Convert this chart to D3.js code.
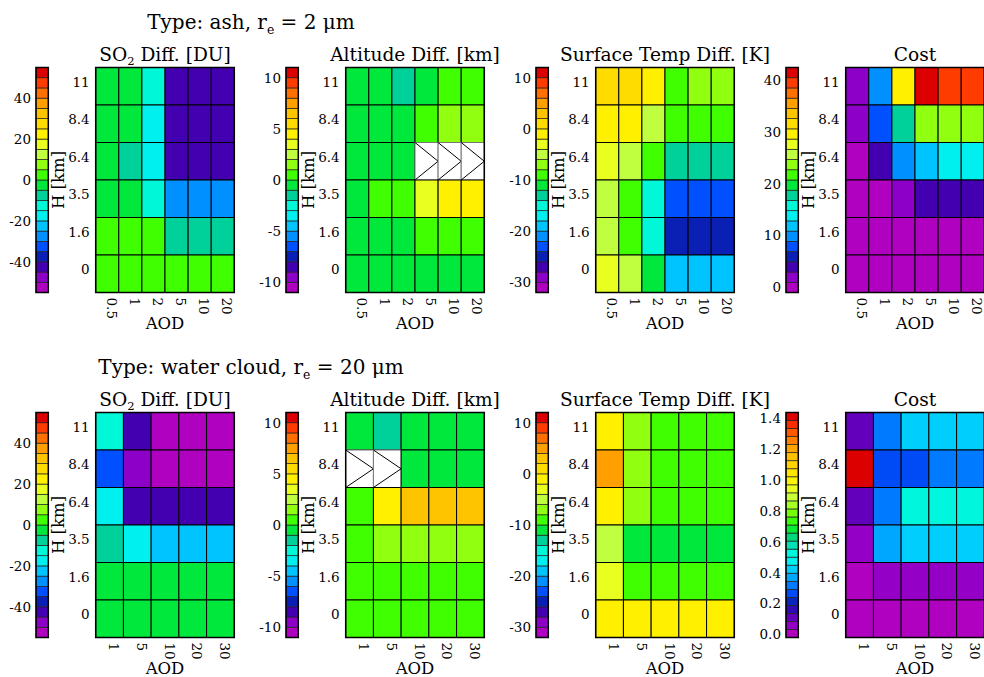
<!DOCTYPE html>
<html>
<head>
<meta charset="utf-8">
<script src="https://cdn.jsdelivr.net/npm/d3@7"></script>
<style>
body { margin: 0; background: #fff; }
svg text { font-family: "DejaVu Serif", serif; fill: #000; }
</style>
</head>
<body>
<div id="chart"></div>
<script>
const width = 984, height = 677;

// axes categories
const aodAsh = ["0.5", "1", "2", "5", "10", "20"];
const aodWater = ["1", "5", "10", "20", "30"];
const heights = ["11", "8.4", "6.4", "3.5", "1.6", "0"];   // top row first

// colour bars: [min, max, number of levels] and their tick labels
const so2Range = [-55, 55, 22];
const so2Ticks = [-40, -20, 0, 20, 40];
const altRange = [-11, 11, 22];
const altTicks = [-10, -5, 0, 5, 10];
const tempRange = [-32, 12, 22];
const tempTicks = [-30, -20, -10, 0, 10];
const costAshRange = [-1, 42.5, 22];
const costAshTicks = [0, 10, 20, 30, 40];
const costWaterRange = [-0.02, 1.44, 28];
const costWaterTicks = [0.0, 0.2, 0.4, 0.6, 0.8, 1.0, 1.2, 1.4];

// ash, r_e = 2 um  (rows = H from 11 down to 0, cols = AOD)
const ashSO2 = [
  [-2.1, -1.6, -13.4, -43.5, -42.8, -42.1],
  [-1.9, -1.4, -18.2, -43.9, -43.1, -42.4],
  [-2.4, -7.6, -17.8, -44.2, -43.6, -42.9],
  [-1.2, -0.9, -12.1, -28.3, -27.6, -27.1],
  [1.8, 2.1, 2.4, -7.2, -6.8, -6.5],
  [2.6, 2.9, 3.1, 3.3, 3.5, 3.6]
];
const ashAlt = [
  [-0.4, -0.6, -1.4, -0.3, 0.4, 0.6],
  [-0.5, -0.4, -0.3, 0.5, 1.4, 1.6],
  [-0.6, -0.5, -0.4, null, null, null],
  [-0.2, 0.6, 0.8, 3.4, 4.3, 4.6],
  [-0.3, -0.4, -0.2, 0.5, 0.6, 0.7],
  [-0.2, -0.3, -0.3, -0.4, -0.4, -0.5]
];
const ashTemp = [
  [0.8, 1.2, -1.1, -9.2, -7.1, -6.8],
  [-0.9, -1.2, -5.1, -8.8, -9.1, -9.0],
  [-3.2, -4.8, -9.3, -13.1, -12.8, -13.0],
  [-5.2, -9.1, -15.2, -23.1, -22.9, -23.2],
  [-4.9, -8.9, -14.8, -25.2, -24.8, -25.1],
  [-3.1, -5.3, -11.2, -19.1, -18.8, -19.0]
];
const ashCost = [
  [2.1, 9.9, 29.7, 41.6, 39.4, 39.6],
  [1.9, 7.8, 17.9, 23.5, 23.8, 23.6],
  [0.4, 3.9, 9.8, 11.9, 13.7, 13.9],
  [0.1, 0.3, 1.8, 4.1, 4.0, 3.8],
  [0.05, 0.08, 0.1, 0.12, 0.1, 0.09],
  [0.02, 0.03, 0.04, 0.04, 0.05, 0.04]
];

// water cloud, r_e = 20 um
const waterSO2 = [
  [-12.4, -42.6, -52.1, -52.8, -53.0],
  [-32.3, -47.8, -52.4, -52.6, -52.9],
  [-17.6, -43.1, -42.8, -42.5, -42.3],
  [-7.4, -17.2, -22.6, -22.3, -22.1],
  [-2.1, -2.3, -2.4, -2.4, -2.5],
  [-2.2, -2.4, -2.5, -2.5, -2.6]
];
const waterAlt = [
  [-0.5, -1.4, -0.4, -0.3, -0.3],
  [null, null, -0.4, -0.5, -0.5],
  [0.6, 4.4, 6.3, 6.5, 6.6],
  [0.7, 1.5, 1.6, 1.6, 1.7],
  [0.5, 0.4, 0.5, 0.4, 0.5],
  [0.4, 0.3, 0.3, 0.4, 0.4]
];
const waterTemp = [
  [-1.2, -7.1, -9.0, -9.1, -9.0],
  [5.1, -6.9, -8.9, -9.1, -9.2],
  [-0.8, -7.2, -9.1, -9.2, -9.1],
  [-4.9, -11.1, -11.3, -11.2, -11.0],
  [-3.1, -9.2, -9.0, -8.9, -9.1],
  [-1.1, -0.9, -1.0, -1.0, -1.1]
];
const waterCost = [
  [0.09, 0.33, 0.42, 0.42, 0.41],
  [1.40, 0.27, 0.25, 0.31, 0.30],
  [0.10, 0.33, 0.53, 0.52, 0.52],
  [0.05, 0.37, 0.42, 0.43, 0.42],
  [0.01, 0.05, 0.05, 0.05, 0.04],
  [0.0, 0.01, 0.005, 0.01, 0.01]
];

// rainbow colour table, low to high
const rainbow = ["#b000c0", "#8c00c8", "#4200b0", "#0a20b4", "#0050ff", "#0090ff",
  "#00c4ff", "#00f0f0", "#00f8d8", "#00d09a", "#00e83c", "#40ff00", "#90ff10",
  "#c0ff40", "#e8ff20", "#fff000", "#ffdc00", "#ffc400", "#ffa000", "#ff7000",
  "#ff3c00", "#dc0000"];

const panelX = [0, 250, 500, 750];
const rowTop = [67.5, 412.5];
const plotH = 225;

var svg = d3.select("#chart").append("svg")
  .attr("width", width)
  .attr("height", height);

var rainbowScale = d3.scaleLinear()
  .domain(rainbow.map((c, i) => i / (rainbow.length - 1)))
  .range(rainbow);

// text with sub-scripted pieces: parts = [[string, isSub], ...]
function richText(g, parts, size) {
  var shift = 0;
  parts.forEach(function(p) {
    var t = g.append("tspan").text(p[0]);
    if (p[1]) {
      t.attr("font-size", size * 0.62).attr("dy", size * 0.25 - shift);
      shift = size * 0.25;
    } else {
      t.attr("font-size", size).attr("dy", -shift);
      shift = 0;
    }
  });
}

function drawPanel(ox, top, aod, values, range, ticks, fmt, titleParts) {
  var n = range[2];
  var step = (range[1] - range[0]) / n;
  var levels = d3.range(n).map(i => range[0] + i * step);
  var levelColor = i => rainbowScale(n == 1 ? 0 : i / (n - 1));
  var color = function(v) {
    var i = Math.floor((v - range[0]) / step);
    return levelColor(Math.max(0, Math.min(n - 1, i)));
  };

  var x = d3.scaleBand().domain(aod).range([ox + 95.7, ox + 234.3]);
  var y = d3.scaleBand().domain(heights).range([top, top + plotH]);
  var cbar = d3.scaleLinear().domain([range[0], range[1]]).range([top + plotH, top]);

  // colour bar
  var cx = ox + 36, cw = 12.3;
  svg.append("g").selectAll("rect")
    .data(levels)
    .enter()
    .append("rect")
      .attr("x", cx)
      .attr("y", d => cbar(d + step))
      .attr("width", cw)
      .attr("height", d => cbar(d) - cbar(d + step))
      .style("fill", (d, i) => levelColor(i))
      .style("stroke", "#222")
      .style("stroke-width", 0.7);
  svg.append("rect")
    .attr("x", cx).attr("y", top)
    .attr("width", cw).attr("height", plotH)
    .style("fill", "none").style("stroke", "#000").style("stroke-width", 1.5);

  var cAxis = svg.append("g")
    .attr("transform", "translate(" + cx + ",0)")
    .call(d3.axisLeft(cbar).tickValues(ticks).tickSize(0).tickPadding(5).tickFormat(fmt));
  cAxis.select(".domain").remove();
  cAxis.attr("font-size", 13.5);

  // cells
  var cells = [];
  values.forEach(function(row, r) {
    row.forEach(function(v, c) {
      cells.push({h: heights[r], a: aod[c], v: v});
    });
  });
  var cell = svg.append("g").selectAll("g.cell")
    .data(cells)
    .enter()
    .append("g")
    .attr("class", "cell");
  cell.append("rect")
    .attr("x", d => x(d.a))
    .attr("y", d => y(d.h))
    .attr("width", x.bandwidth())
    .attr("height", y.bandwidth())
    .style("fill", d => d.v === null ? "#fff" : color(d.v))
    .style("stroke", d => d.v === null ? "#777" : "#000")
    .style("stroke-width", 1);
  cell.filter(d => d.v === null)
    .append("path")
    .attr("d", function(d) {
      var x0 = x(d.a), x1 = x0 + x.bandwidth();
      var y0 = y(d.h), y1 = y0 + y.bandwidth();
      return "M" + x0 + "," + y0 + "L" + x1 + "," + (y0 + y1) / 2 + "L" + x0 + "," + y1;
    })
    .style("fill", "none")
    .style("stroke", "#000")
    .style("stroke-width", 1);
  svg.append("rect")
    .attr("x", ox + 95.7).attr("y", top)
    .attr("width", 234.3 - 95.7).attr("height", plotH)
    .style("fill", "none").style("stroke", "#000").style("stroke-width", 1.5);

  // H axis
  var yAxis = svg.append("g")
    .attr("transform", "translate(" + (ox + 95.7) + ",0)")
    .call(d3.axisLeft(y).tickSize(0).tickPadding(6));
  yAxis.select(".domain").remove();
  yAxis.attr("font-size", 13.5);
  yAxis.selectAll("text").attr("dy", "0.05em");

  // AOD axis
  var xAxis = svg.append("g")
    .attr("transform", "translate(0," + (top + plotH) + ")")
    .call(d3.axisBottom(x).tickSize(0));
  xAxis.select(".domain").remove();
  xAxis.attr("font-size", 13.5);
  xAxis.selectAll("text")
    .attr("transform", "rotate(90)")
    .attr("text-anchor", "start")
    .attr("x", 5)
    .attr("y", 0.5)
    .attr("dy", 0);

  svg.append("text")
    .attr("transform", "translate(" + (ox + 63.5) + "," + (top + plotH / 2) + ") rotate(-90)")
    .attr("text-anchor", "middle")
    .attr("font-size", 16.5)
    .text("H [km]");
  svg.append("text")
    .attr("x", ox + 165)
    .attr("y", top + plotH + 36.5)
    .attr("text-anchor", "middle")
    .attr("font-size", 16.5)
    .text("AOD");

  var title = svg.append("text")
    .attr("x", ox + 165)
    .attr("y", top - 7)
    .attr("text-anchor", "middle");
  richText(title, titleParts, 18.6);
}

var so2Title = [["SO", 0], ["2", 1], [" Diff. [DU]", 0]];
var altTitle = [["Altitude Diff. [km]", 0]];
var tempTitle = [["Surface Temp Diff. [K]", 0]];
var costTitle = [["Cost", 0]];
// plain hyphen for negative numbers, like the original
var intFmt = d => d3.format("d")(d).replace("\u2212", "-");
var decFmt = d => d3.format(".1f")(d).replace("\u2212", "-");

function rowTitle(top, parts) {
  var t = svg.append("text")
    .attr("x", 251)
    .attr("y", top - 38.5)
    .attr("text-anchor", "middle");
  richText(t, parts, 20);
}

function initialize() {
  rowTitle(rowTop[0], [["Type: ash, r", 0], ["e", 1], [" = 2 \u03bcm", 0]]);
  drawPanel(panelX[0], rowTop[0], aodAsh, ashSO2, so2Range, so2Ticks, intFmt, so2Title);
  drawPanel(panelX[1], rowTop[0], aodAsh, ashAlt, altRange, altTicks, intFmt, altTitle);
  drawPanel(panelX[2], rowTop[0], aodAsh, ashTemp, tempRange, tempTicks, intFmt, tempTitle);
  drawPanel(panelX[3], rowTop[0], aodAsh, ashCost, costAshRange, costAshTicks, intFmt, costTitle);

  rowTitle(rowTop[1], [["Type: water cloud, r", 0], ["e", 1], [" = 20 \u03bcm", 0]]);
  drawPanel(panelX[0], rowTop[1], aodWater, waterSO2, so2Range, so2Ticks, intFmt, so2Title);
  drawPanel(panelX[1], rowTop[1], aodWater, waterAlt, altRange, altTicks, intFmt, altTitle);
  drawPanel(panelX[2], rowTop[1], aodWater, waterTemp, tempRange, tempTicks, intFmt, tempTitle);
  drawPanel(panelX[3], rowTop[1], aodWater, waterCost, costWaterRange, costWaterTicks, decFmt, costTitle);
}

initialize();
</script>
</body>
</html>
